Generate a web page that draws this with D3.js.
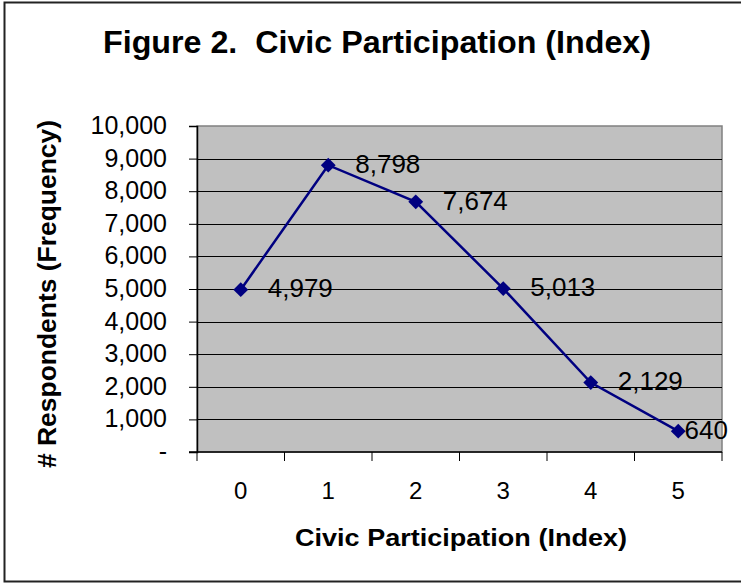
<!DOCTYPE html>
<html>
<head>
<meta charset="utf-8">
<script src="https://cdn.jsdelivr.net/npm/d3@7"></script>
<style>
  html, body { margin: 0; padding: 0; background: #fff; }
  svg { display: block; }
  text { font-family: Arial, "Liberation Sans", Helvetica, sans-serif; fill: #000; }
</style>
</head>
<body>
<script>
// Civic participation index scores and respondent counts
const categories = ["0", "1", "2", "3", "4", "5"];
const respondents = [4979, 8798, 7674, 5013, 2129, 640];
const yTicks = [0, 1000, 2000, 3000, 4000, 5000, 6000, 7000, 8000, 9000, 10000];

const title = "Figure 2.  Civic Participation (Index)";
const xTitle = "Civic Participation (Index)";
const yTitle = "# Respondents (Frequency)";

const W = 741, H = 584;
const plot = { left: 197, right: 722, top: 126, bottom: 452 };

const svg = d3.select("body").append("svg")
  .attr("width", W).attr("height", H);

// outer frame
svg.append("rect")
  .attr("x", 4.5).attr("y", 2.5)
  .attr("width", W + 10).attr("height", 579)
  .attr("fill", "#fff").attr("stroke", "#222").attr("stroke-width", 2);

const x = d3.scaleBand().domain(categories).range([plot.left, plot.right]).padding(0);
const y = d3.scaleLinear().domain([0, 10000]).range([plot.bottom, plot.top]);

// plot area
svg.append("rect")
  .attr("x", plot.left).attr("y", plot.top)
  .attr("width", plot.right - plot.left).attr("height", plot.bottom - plot.top)
  .attr("fill", "#c0c0c0").attr("stroke", "#808080").attr("stroke-width", 1.5);

// horizontal gridlines
svg.append("g").selectAll("line").data(yTicks.filter(d => d > 0 && d < 10000)).join("line")
  .attr("x1", plot.left).attr("x2", plot.right)
  .attr("y1", d => Math.round(y(d)) + 0.5).attr("y2", d => Math.round(y(d)) + 0.5)
  .attr("stroke", "#000").attr("stroke-width", 1);

// y axis
const fmt = d3.format(",");
const yAxis = svg.append("g")
  .attr("transform", `translate(${plot.left},0)`)
  .call(d3.axisLeft(y).tickValues(yTicks).tickSize(8).tickPadding(22)
    .tickFormat(d => d === 0 ? "-" : fmt(d)));
yAxis.select(".domain").attr("stroke", "#000").attr("stroke-width", 1.5);
yAxis.selectAll(".tick line").attr("stroke", "#000");
yAxis.selectAll(".tick text")
  .style("font-size", "25px").attr("fill", "#000").attr("dy", "0.3em")
  .attr("font-family", "Arial, 'Liberation Sans', sans-serif");

// x axis: ticks sit between categories
const xAxisG = svg.append("g").attr("transform", `translate(0,${plot.bottom})`);
xAxisG.append("line")
  .attr("x1", plot.left - 8).attr("x2", plot.right)
  .attr("y1", 0).attr("y2", 0).attr("stroke", "#000").attr("stroke-width", 1.5);
const bounds = categories.map(c => x(c)).concat([plot.right]);
xAxisG.selectAll("line.tk").data(bounds).join("line").attr("class", "tk")
  .attr("x1", d => d).attr("x2", d => d)
  .attr("y1", 0).attr("y2", 9).attr("stroke", "#000");
xAxisG.selectAll("text").data(categories).join("text")
  .attr("x", d => x(d) + x.bandwidth() / 2)
  .attr("y", 47)
  .attr("text-anchor", "middle")
  .style("font-size", "24px")
  .text(d => d);

// series line and markers
const pts = categories.map((c, i) => ({ c, v: respondents[i] }));
const cx = d => x(d.c) + x.bandwidth() / 2;

svg.append("path").datum(pts)
  .attr("d", d3.line().x(cx).y(d => y(d.v)))
  .attr("fill", "none").attr("stroke", "#000080").attr("stroke-width", 2.5);

svg.append("g").selectAll("path").data(pts).join("path")
  .attr("transform", d => `translate(${cx(d)},${y(d.v)}) rotate(45)`)
  .attr("d", d3.symbol().type(d3.symbolSquare).size(110)())
  .attr("fill", "#000080");

// value labels, pulled left when they would run past the plot edge
const labels = svg.append("g").selectAll("text").data(pts).join("text")
  .attr("y", d => y(d.v))
  .attr("dy", "0.3em")
  .style("font-size", "26px")
  .text(d => fmt(d.v));
labels.each(function (d) {
  const w = this.getComputedTextLength();
  d3.select(this).attr("x", Math.min(cx(d) + 27, plot.right + 6 - w));
});

// titles
svg.append("text")
  .attr("x", 103).attr("y", 53)
  .attr("textLength", 548).attr("lengthAdjust", "spacingAndGlyphs")
  .style("font-size", "31px").style("font-weight", "bold")
  .attr("xml:space", "preserve")
  .text(title);

svg.append("text")
  .attr("x", 295).attr("y", 546)
  .attr("textLength", 332).attr("lengthAdjust", "spacingAndGlyphs")
  .style("font-size", "24px").style("font-weight", "bold")
  .text(xTitle);

svg.append("text")
  .attr("transform", "translate(56,468) rotate(-90)")
  .attr("textLength", 348).attr("lengthAdjust", "spacingAndGlyphs")
  .style("font-size", "25px").style("font-weight", "bold")
  .text(yTitle);
</script>
</body>
</html>
